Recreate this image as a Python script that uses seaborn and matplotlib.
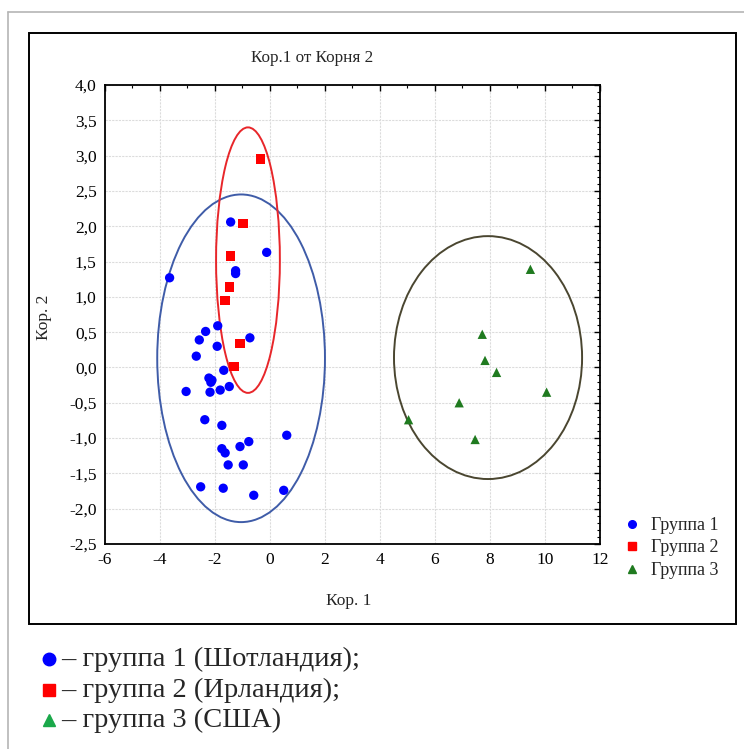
import numpy as np
import pandas as pd
import matplotlib
matplotlib.use("Agg")
import matplotlib.pyplot as plt
import seaborn as sns
from matplotlib.patches import Ellipse, Rectangle
from matplotlib.lines import Line2D
from matplotlib.ticker import FuncFormatter, MultipleLocator

# ---- data ----
g1_x = [-1.43, -0.12, -3.65, -1.25, -1.25, -1.90, -2.34, -2.57, -0.73, -1.92, -2.68,
        -1.68, -2.22, -2.11, -2.15, -3.05, -2.18, -1.81, -1.48, -2.37, -1.75, 0.61,
        -0.77, -1.09, -1.75, -1.63, -1.52, -0.97, -2.52, -1.70, -0.59, 0.50]
g1_y = [2.06, 1.63, 1.27, 1.37, 1.33, 0.59, 0.51, 0.39, 0.42, 0.30, 0.16,
        -0.04, -0.15, -0.18, -0.21, -0.34, -0.35, -0.32, -0.27, -0.74, -0.82, -0.96,
        -1.05, -1.12, -1.15, -1.21, -1.38, -1.38, -1.69, -1.71, -1.81, -1.74]
g2_x = [-0.34, -0.98, -1.43, -1.48, -1.63, -1.09, -1.31]
g2_y = [2.95, 2.04, 1.58, 1.14, 0.95, 0.34, 0.01]
g3_x = [9.47, 7.72, 7.82, 8.24, 10.06, 6.88, 5.04, 7.46]
g3_y = [1.39, 0.47, 0.10, -0.07, -0.35, -0.50, -0.74, -1.02]

groups = ["Группа 1", "Группа 2", "Группа 3"]
footnotes = ["– группа 1 (Шотландия);", "– группа 2 (Ирландия);", "– группа 3 (США)"]
title = "Кор.1 от Корня 2"
xlabel = "Кор. 1"
ylabel = "Кор. 2"

# confidence ellipses: centre x, centre y, width, height
ell_cx = [-1.05, -0.80, 7.93]
ell_cy = [0.13, 1.52, 0.14]
ell_w = [6.10, 2.32, 6.84]
ell_h = [4.64, 3.76, 3.44]
ell_col = ["#3f5ca8", "#e8262a", "#4a4630"]

df = pd.DataFrame({
    "x": g1_x + g2_x + g3_x,
    "y": g1_y + g2_y + g3_y,
    "group": [groups[0]] * len(g1_x) + [groups[1]] * len(g2_x) + [groups[2]] * len(g3_x),
})

# ---- styling ----
sns.set_style("white")
plt.rcParams["font.family"] = ["Liberation Serif", "DejaVu Serif"]

fig = plt.figure(figsize=(7.44, 7.49), dpi=100)

# outer grey frame and inner black box
fig.add_artist(Line2D([0.0108, 0.0108], [0.0, 0.984], color="#b5b5b5", lw=1.2, transform=fig.transFigure))
fig.add_artist(Line2D([0.0108, 1.0], [0.984, 0.984], color="#b5b5b5", lw=1.2, transform=fig.transFigure))
fig.add_artist(Rectangle((0.039, 0.1669), 0.9503, 0.789, fill=False, ec="black", lw=1.4,
                         transform=fig.transFigure))

ax = fig.add_axes([0.1411, 0.2737, 0.6653, 0.6128])

palette = {groups[0]: "#0000ff", groups[1]: "#ff0000", groups[2]: "#1f7a1f"}
markers = {groups[0]: "o", groups[1]: "s", groups[2]: "^"}
sns.scatterplot(data=df, x="x", y="y", hue="group", style="group", palette=palette,
                markers=markers, s=45, linewidth=0, ax=ax, legend=False, zorder=3)

for cx, cy, w, h, c in zip(ell_cx, ell_cy, ell_w, ell_h, ell_col):
    ax.add_patch(Ellipse((cx, cy), w, h, fill=False, ec=c, lw=1.4, zorder=2))

ax.set_xlim(-6, 12)
ax.set_ylim(-2.5, 4.0)
ax.xaxis.set_major_locator(MultipleLocator(2))
ax.xaxis.set_minor_locator(MultipleLocator(1))
ax.yaxis.set_major_locator(MultipleLocator(0.5))
ax.yaxis.set_minor_locator(MultipleLocator(0.1))
ax.xaxis.set_major_formatter(FuncFormatter(lambda v, p: f"{v:.0f}"))
ax.yaxis.set_major_formatter(FuncFormatter(lambda v, p: f"{v:.1f}".replace(".", ",")))
ax.tick_params(which="both", direction="in", top=True, right=True, colors="black",
               labelsize=12.5, pad=6)
ax.tick_params(which="major", length=4, width=1)
ax.tick_params(which="minor", length=2, width=0.8)
ax.grid(True, which="major", color="#dcdcdc", lw=0.8, ls=(0, (2, 1)))
ax.set_axisbelow(True)
for sp in ax.spines.values():
    sp.set_color("black")
    sp.set_linewidth(1.3)
ax.set_xlabel("")
ax.set_ylabel("")

fig.text(312 / 744, 1 - 58 / 749, title, ha="center", va="center", fontsize=12.3)
fig.text(349 / 744, 1 - 601 / 749, xlabel, ha="center", va="center", fontsize=12.5)
fig.text(44 / 744, 1 - 317 / 749, ylabel, ha="center", va="center", fontsize=12.5, rotation=90)

# legend in the right part of the chart box
leg_handles = [Line2D([], [], ls="", marker=markers[g], color=palette[g], markersize=5.5)
               for g in groups]
fig.legend(leg_handles, groups, loc="center left", bbox_to_anchor=(616 / 744, 1 - 548 / 749),
           frameon=False, fontsize=13, handletextpad=0.55, labelspacing=0.3,
           handlelength=1.0, borderaxespad=0)

# footnote legend below the chart box
foot_colors = ["#0000ff", "#ff0000", "#1aa84a"]
foot_markers = ["o", "s", "^"]
foot_y = [659, 690, 720]
for m, c, t, yy in zip(foot_markers, foot_colors, footnotes, foot_y):
    fig.add_artist(Line2D([49 / 744], [1 - yy / 749], ls="", marker=m, color=c, markersize=9,
                          transform=fig.transFigure))
    fig.text(61 / 744, 1 - yy / 749, t, ha="left", va="center", fontsize=20.5)

fig.savefig("out.png", dpi=100)
